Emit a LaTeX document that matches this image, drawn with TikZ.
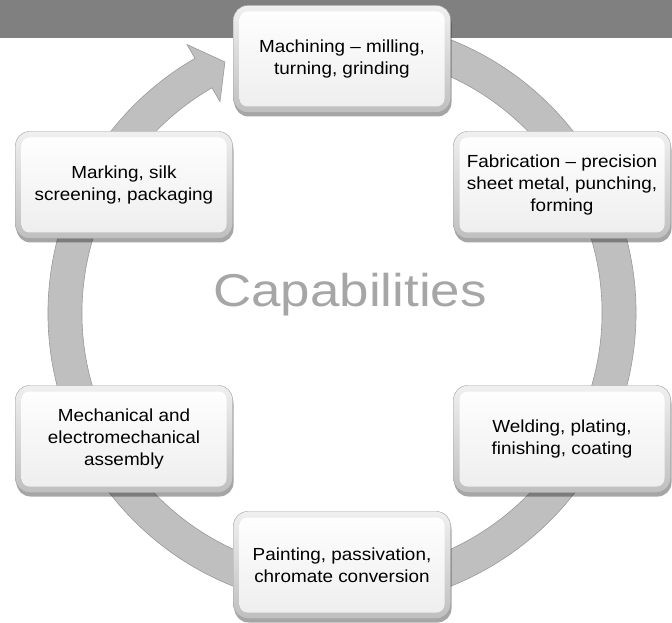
\documentclass[tikz,border=0pt]{standalone}
\usepackage{fontspec}
\setmainfont{Liberation Sans}
\newfontfamily\boxfont[Ligatures=TeX,FakeStretch=1.08]{Liberation Sans}
\newfontfamily\capfont[FakeStretch=1.15]{Liberation Sans}
\usetikzlibrary{positioning,shadows}

\begin{document}
\begin{tikzpicture}[x=1pt,y=1pt,on grid,
    stage/.style={rounded corners=14pt, minimum width=217pt, minimum height=107pt,
      align=center, font=\boxfont\fontsize{17.5}{22}\selectfont,
      draw=gray!75, top color=gray!12, bottom color=gray!50,
      drop shadow={shadow xshift=1pt,shadow yshift=-4pt,opacity=.35,fill=black},
      path picture={\shade[top color=white,bottom color=gray!14,rounded corners=8pt]
        ([shift={(6pt,-6pt)}]path picture bounding box.north west) rectangle
        ([shift={(-6pt,6pt)}]path picture bounding box.south east);}},
    ring/.style={fill=gray!50, draw=gray!80, line width=0.6pt}]
  \useasboundingbox (0,0) rectangle (672,622);
  \fill[gray] (0,584) rectangle (672,622);
  \coordinate (hub) at (342,309);
  \path[ring] ([shift={(80:294)}]hub) arc[start angle=80, end angle=-240, radius=294]
    -- ([shift={(120:310)}]hub) -- ([shift={(115:277)}]hub) -- ([shift={(120:244)}]hub)
    -- ([shift={(120:260)}]hub) arc[start angle=-240, end angle=80, radius=260] -- cycle;
  \node[text=gray!70, font=\capfont\fontsize{46}{50}\selectfont] (cap) at (350,327) {Capabilities};
  \node[stage] (mach) at (342,563) {Machining -- milling,\\turning, grinding};
  \node[stage] (fab) [below right=126pt and 220pt of mach] {Fabrication -- precision\\sheet metal, punching,\\forming};
  \node[stage] (weld) [below=254pt of fab] {Welding, plating,\\finishing, coating};
  \node[stage] (paint) [below left=126pt and 220pt of weld] {Painting, passivation,\\chromate conversion};
  \node[stage] (mech) [above left=126pt and 218pt of paint] {Mechanical and\\electromechanical\\assembly};
  \node[stage] (mark) [above=254pt of mech] {Marking, silk\\screening, packaging};
\end{tikzpicture}
\end{document}
